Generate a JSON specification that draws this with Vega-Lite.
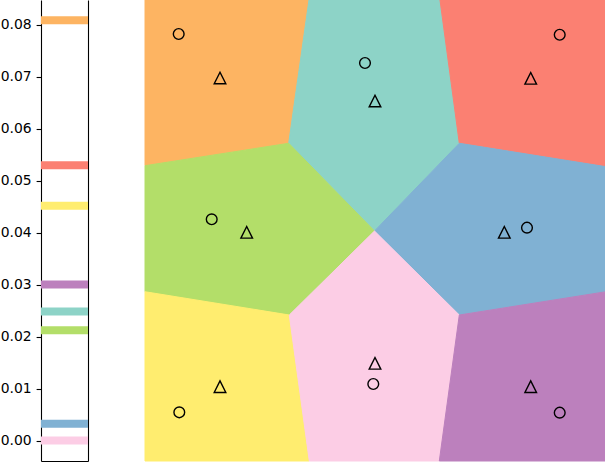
{
  "$schema": "https://vega.github.io/schema/vega-lite/v6.json",
  "padding": {"left": 0, "top": -2, "right": 0, "bottom": 0},
  "spacing": 51,
  "config": {
    "view": {"stroke": null},
    "font": "DejaVu Sans",
    "axis": {"grid": false, "domainColor": "black", "tickColor": "black", "labelColor": "black", "labelFont": "DejaVu Sans", "labelFontSize": 13.9, "domainWidth": 1.1, "tickWidth": 1.1, "tickSize": 4.9, "labelPadding": 4.9, "title": null}
  },
  "datasets": {
    "bars": [
      {"region": "top-left", "v": 0.0809},
      {"region": "top-right", "v": 0.0530},
      {"region": "bottom-left", "v": 0.04525},
      {"region": "bottom-right", "v": 0.0301},
      {"region": "top-center", "v": 0.0249},
      {"region": "middle-left", "v": 0.0213},
      {"region": "middle-right", "v": 0.0033},
      {"region": "bottom-center", "v": 0.0001}
    ],
    "regions": [
      {"region": "top-left", "i": 0, "u": 0, "v": 0},
      {"region": "top-left", "i": 1, "u": 0.3557, "v": 0},
      {"region": "top-left", "i": 2, "u": 0.3117, "v": 0.3108},
      {"region": "top-left", "i": 3, "u": 0, "v": 0.3594},
      {"region": "top-center", "i": 0, "u": 0.3557, "v": 0},
      {"region": "top-center", "i": 1, "u": 0.6399, "v": 0},
      {"region": "top-center", "i": 2, "u": 0.6818, "v": 0.3108},
      {"region": "top-center", "i": 3, "u": 0.4978, "v": 0.5011},
      {"region": "top-center", "i": 4, "u": 0.3117, "v": 0.3108},
      {"region": "top-right", "i": 0, "u": 0.6399, "v": 0},
      {"region": "top-right", "i": 1, "u": 1, "v": 0},
      {"region": "top-right", "i": 2, "u": 1, "v": 0.3616},
      {"region": "top-right", "i": 3, "u": 0.6818, "v": 0.3108},
      {"region": "middle-left", "i": 0, "u": 0, "v": 0.3594},
      {"region": "middle-left", "i": 1, "u": 0.3117, "v": 0.3108},
      {"region": "middle-left", "i": 2, "u": 0.4978, "v": 0.5011},
      {"region": "middle-left", "i": 3, "u": 0.3130, "v": 0.6833},
      {"region": "middle-left", "i": 4, "u": 0, "v": 0.6328},
      {"region": "middle-right", "i": 0, "u": 0.6818, "v": 0.3108},
      {"region": "middle-right", "i": 1, "u": 1, "v": 0.3616},
      {"region": "middle-right", "i": 2, "u": 1, "v": 0.6328},
      {"region": "middle-right", "i": 3, "u": 0.6818, "v": 0.6833},
      {"region": "middle-right", "i": 4, "u": 0.4978, "v": 0.5011},
      {"region": "bottom-left", "i": 0, "u": 0, "v": 0.6328},
      {"region": "bottom-left", "i": 1, "u": 0.3130, "v": 0.6833},
      {"region": "bottom-left", "i": 2, "u": 0.3564, "v": 1},
      {"region": "bottom-left", "i": 3, "u": 0, "v": 1},
      {"region": "bottom-center", "i": 0, "u": 0.4978, "v": 0.5011},
      {"region": "bottom-center", "i": 1, "u": 0.6818, "v": 0.6833},
      {"region": "bottom-center", "i": 2, "u": 0.6384, "v": 1},
      {"region": "bottom-center", "i": 3, "u": 0.3564, "v": 1},
      {"region": "bottom-center", "i": 4, "u": 0.3130, "v": 0.6833},
      {"region": "bottom-right", "i": 0, "u": 0.6818, "v": 0.6833},
      {"region": "bottom-right", "i": 1, "u": 1, "v": 0.6328},
      {"region": "bottom-right", "i": 2, "u": 1, "v": 1},
      {"region": "bottom-right", "i": 3, "u": 0.6384, "v": 1}
    ],
    "markers": [
      {"m": "circle", "u": 0.0731, "v": 0.0738},
      {"m": "triangle", "u": 0.1627, "v": 0.1692},
      {"m": "circle", "u": 0.4772, "v": 0.1367},
      {"m": "triangle", "u": 0.4989, "v": 0.2191},
      {"m": "circle", "u": 0.8996, "v": 0.0753},
      {"m": "triangle", "u": 0.8367, "v": 0.1698},
      {"m": "circle", "u": 0.8286, "v": 0.4939},
      {"m": "triangle", "u": 0.7794, "v": 0.5039},
      {"m": "circle", "u": 0.1447, "v": 0.4757},
      {"m": "triangle", "u": 0.2206, "v": 0.5039},
      {"m": "triangle", "u": 0.1627, "v": 0.8388},
      {"m": "circle", "u": 0.0744, "v": 0.8944},
      {"m": "triangle", "u": 0.4989, "v": 0.7881},
      {"m": "circle", "u": 0.4952, "v": 0.8330},
      {"m": "triangle", "u": 0.8367, "v": 0.8388},
      {"m": "circle", "u": 0.8996, "v": 0.8952}
    ]
  },
  "hconcat": [
    {
      "width": 47,
      "height": 461,
      "data": {"name": "bars"},
      "layer": [
        {
          "mark": {"type": "rule", "strokeWidth": 8, "strokeCap": "butt"},
          "encoding": {
            "y": {"field": "v", "type": "quantitative",
                  "scale": {"domain": [-0.00385, 0.0848], "nice": false, "zero": false},
                  "axis": {"orient": "left", "values": [0, 0.01, 0.02, 0.03, 0.04, 0.05, 0.06, 0.07, 0.08], "format": ".2f"}},
            "color": {"field": "region", "type": "nominal",
                      "scale": {"domain": ["top-left", "top-center", "top-right", "middle-left", "middle-right", "bottom-left", "bottom-center", "bottom-right"],
                                "range": ["#fdb462", "#8dd3c7", "#fb8072", "#b3de69", "#80b1d3", "#ffed6f", "#fccde5", "#bc80bd"]},
                      "legend": null}
          }
        },
        {
          "mark": {"type": "point", "opacity": 0},
          "encoding": {
            "y": {"field": "v", "type": "quantitative",
                  "axis": {"orient": "right", "labels": false, "ticks": false}},
            "x": {"datum": 0.5, "type": "quantitative", "scale": {"domain": [0, 1]},
                  "axis": {"labels": false, "ticks": false}}
          }
        }
      ],
      "resolve": {"axis": {"y": "independent"}}
    },
    {
      "width": 461,
      "height": 461,
      "layer": [
        {
          "data": {"name": "regions"},
          "mark": {"type": "line", "filled": true, "interpolate": "linear-closed", "strokeWidth": 1, "opacity": 1},
          "encoding": {
            "x": {"field": "u", "type": "quantitative", "scale": {"domain": [0, 1], "nice": false}, "axis": null},
            "y": {"field": "v", "type": "quantitative", "scale": {"domain": [0, 1], "nice": false, "reverse": true}, "axis": null},
            "order": {"field": "i", "type": "quantitative"},
            "fill": {"field": "region", "type": "nominal",
                     "scale": {"domain": ["top-left", "top-center", "top-right", "middle-left", "middle-right", "bottom-left", "bottom-center", "bottom-right"],
                               "range": ["#fdb462", "#8dd3c7", "#fb8072", "#b3de69", "#80b1d3", "#ffed6f", "#fccde5", "#bc80bd"]},
                     "legend": null},
            "stroke": {"field": "region", "type": "nominal",
                       "scale": {"domain": ["top-left", "top-center", "top-right", "middle-left", "middle-right", "bottom-left", "bottom-center", "bottom-right"],
                                 "range": ["#fdb462", "#8dd3c7", "#fb8072", "#b3de69", "#80b1d3", "#ffed6f", "#fccde5", "#bc80bd"]},
                       "legend": null}
          }
        },
        {
          "data": {"name": "markers"},
          "mark": {"type": "point", "filled": false, "stroke": "black", "strokeWidth": 1.4, "opacity": 1},
          "encoding": {
            "x": {"field": "u", "type": "quantitative"},
            "y": {"field": "v", "type": "quantitative"},
            "shape": {"field": "m", "type": "nominal",
                      "scale": {"domain": ["circle", "triangle"], "range": ["circle", "M0,-1L-1,1L1,1Z"]},
                      "legend": null},
            "size": {"field": "m", "type": "ordinal",
                     "scale": {"domain": ["circle", "triangle"], "range": [115, 135]},
                     "legend": null}
          }
        }
      ]
    }
  ]
}
